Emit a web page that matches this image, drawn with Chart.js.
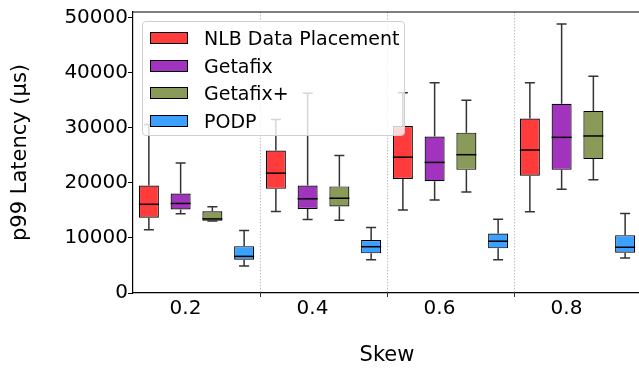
<!DOCTYPE html>
<html>
<head>
<meta charset="utf-8">
<script src="https://cdn.jsdelivr.net/npm/chart.js@4"></script>
<style>
  html, body { margin: 0; padding: 0; overflow: hidden; background: #fff; }
  #wrap { position: relative; width: 639px; height: 368px; overflow: hidden; }
  #c { position: absolute; left: 0; top: 0; width: 680px; height: 368px; }
  #legend {
    position: absolute; left: 142px; top: 21px; width: 263px; height: 115px;
    box-sizing: border-box; border: 1px solid #d0d0d0; border-radius: 4px;
    background: rgba(255,255,255,0.8); font-family: 'DejaVu Sans'; font-size: 19px; color: #000;
  }
  .row { position: absolute; left: 0; height: 20px; display: flex; align-items: center; }
  .patch { width: 38px; height: 12px; border: 1px solid #000; box-sizing: border-box; margin-left: 7px; margin-right: 16px; }
</style>
</head>
<body>
<div id="wrap">
  <canvas id="c" width="680" height="368"></canvas>
  <div id="legend"></div>
</div>
<script>
var SKEWS = ['0.2', '0.4', '0.6', '0.8'];
var SERIES = ['NLB Data Placement', 'Getafix', 'Getafix+', 'PODP'];
var COLORS = ['#ff3b3b', '#a233bf', '#8a9a58', '#3ba0ff'];

// box stats per series, one entry per skew: [whisker low, q1, median, q3, whisker high]
var NLB_STATS = [
  [11500, 13650, 16100, 19500, 30600],
  [14800, 18900, 21750, 25850, 31500],
  [15050, 20700, 24650, 30300, 36350],
  [14750, 21300, 25950, 31650, 38150]
];
var GETAFIX_STATS = [
  [14400, 15150, 16250, 18050, 23600],
  [13350, 15250, 17100, 19500, 36250],
  [16900, 20300, 23700, 28400, 38150],
  [18850, 22350, 28250, 34350, 48800]
];
var GETAFIXPLUS_STATS = [
  [13050, 13100, 13450, 14850, 15650],
  [13200, 15700, 17200, 19350, 24950],
  [18350, 22350, 25100, 29100, 35000],
  [20550, 24300, 28500, 33050, 39350]
];
var PODP_STATS = [
  [4900, 6050, 6650, 8500, 11350],
  [6050, 7200, 8400, 9600, 11900],
  [6050, 8100, 9400, 10800, 13400],
  [6350, 7300, 8300, 10500, 14450]
];
var ALL_STATS = [NLB_STATS, GETAFIX_STATS, GETAFIXPLUS_STATS, PODP_STATS];

var Y_TICKS = [0, 10000, 20000, 30000, 40000, 50000];

var datasets = SERIES.map(function(name, i) {
  return {
    label: name,
    data: ALL_STATS[i].map(function(s) { return [s[1], s[3]]; }),
    stats: ALL_STATS[i],
    backgroundColor: COLORS[i],
    borderColor: '#000',
    borderWidth: 1.2,
    borderSkipped: false,
    categoryPercentage: 1.0,
    barPercentage: 0.63
  };
});

// dotted separators between skew groups
var sepPlugin = {
  id: 'groupSeps',
  beforeDatasetsDraw: function(chart) {
    var ctx = chart.ctx, x = chart.scales.x, area = chart.chartArea;
    ctx.save();
    for (var i = 1; i < SKEWS.length; i++) {
      var px = Math.round((x.getPixelForTick(i - 1) + x.getPixelForTick(i)) / 2) + 0.5;
      ctx.strokeStyle = '#b0b0b0';
      ctx.lineWidth = 0.8;
      ctx.setLineDash([1.5, 1.5]);
      ctx.beginPath();
      ctx.moveTo(px, area.top);
      ctx.lineTo(px, area.bottom);
      ctx.stroke();
      ctx.setLineDash([]);
      ctx.strokeStyle = '#333';
      ctx.lineWidth = 1;
      ctx.beginPath();
      ctx.moveTo(px, area.bottom);
      ctx.lineTo(px, area.bottom + 4);
      ctx.stroke();
    }
    ctx.restore();
  }
};

// whiskers, caps, medians and the top spine
var boxPlugin = {
  id: 'boxExtras',
  afterDatasetsDraw: function(chart) {
    var ctx = chart.ctx, y = chart.scales.y, area = chart.chartArea;
    ctx.save();
    chart.data.datasets.forEach(function(ds, di) {
      var meta = chart.getDatasetMeta(di);
      meta.data.forEach(function(bar, i) {
        var s = ds.stats[i];
        var x = bar.x, w = bar.width;
        ctx.strokeStyle = '#333';
        ctx.lineWidth = 1.5;
        ctx.beginPath();
        ctx.moveTo(x, y.getPixelForValue(s[3]));
        ctx.lineTo(x, y.getPixelForValue(s[4]));
        ctx.moveTo(x, y.getPixelForValue(s[1]));
        ctx.lineTo(x, y.getPixelForValue(s[0]));
        ctx.moveTo(x - w / 4, y.getPixelForValue(s[4]));
        ctx.lineTo(x + w / 4, y.getPixelForValue(s[4]));
        ctx.moveTo(x - w / 4, y.getPixelForValue(s[0]));
        ctx.lineTo(x + w / 4, y.getPixelForValue(s[0]));
        ctx.stroke();
        ctx.strokeStyle = '#000';
        ctx.beginPath();
        ctx.moveTo(x - w / 2, y.getPixelForValue(s[2]));
        ctx.lineTo(x + w / 2, y.getPixelForValue(s[2]));
        ctx.stroke();
      });
    });
    ctx.strokeStyle = '#000';
    ctx.lineWidth = 1.2;
    ctx.beginPath();
    ctx.moveTo(area.left, area.top);
    ctx.lineTo(area.right, area.top);
    ctx.stroke();
    ctx.restore();
  }
};

new Chart(document.getElementById('c').getContext('2d'), {
  type: 'bar',
  data: { labels: SKEWS, datasets: datasets },
  options: {
    responsive: false,
    animation: false,
    layout: { padding: { left: 0, right: 39, top: 12, bottom: 0 } },
    plugins: { legend: { display: false }, tooltip: { enabled: false } },
    scales: {
      x: {
        afterFit: function(s) { s.height = 75; },
        grid: { display: false, tickLength: 0 },
        border: { display: true, color: '#000', width: 1.2 },
        ticks: { color: '#000', padding: 4, labelOffset: -11, font: { family: 'DejaVu Sans', size: 20 } },
        title: { display: true, text: 'Skew', color: '#000', padding: { top: 0, bottom: 0 }, font: { family: 'DejaVu Sans', size: 21 } }
      },
      y: {
        min: 0, max: 51000,
        afterFit: function(s) { s.width = 133; },
        afterBuildTicks: function(s) { s.ticks = Y_TICKS.map(function(v) { return { value: v }; }); },
        grid: { drawOnChartArea: false, tickLength: 5, color: '#000' },
        border: { color: '#000', width: 1.2 },
        ticks: {
          color: '#000', padding: 0, font: { family: 'DejaVu Sans', size: 20 },
          callback: function(v) { return String(v); }
        },
        title: { display: true, text: 'p99 Latency (µs)', color: '#000', padding: { top: 8, bottom: 0 }, font: { family: 'DejaVu Sans', size: 21 } }
      }
    }
  },
  plugins: [sepPlugin, boxPlugin]
});

var legend = document.getElementById('legend');
SERIES.forEach(function(name, i) {
  var row = document.createElement('div');
  row.className = 'row';
  row.style.top = (6 + i * 27.6) + 'px';
  var patch = document.createElement('div');
  patch.className = 'patch';
  patch.style.background = COLORS[i];
  var label = document.createElement('span');
  label.textContent = name;
  row.appendChild(patch);
  row.appendChild(label);
  legend.appendChild(row);
});
</script>
</body>
</html>
